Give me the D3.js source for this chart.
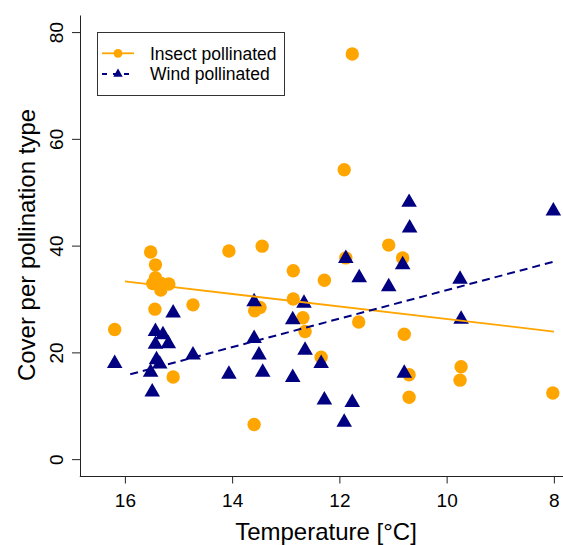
<!DOCTYPE html>
<html>
<head>
<meta charset="utf-8">
<script src="https://cdn.jsdelivr.net/npm/d3@7"></script>
<style>
  body { margin: 0; background: #fff; }
  svg { display: block; font-family: "Liberation Sans", Arial, sans-serif; }
</style>
</head>
<body>
<svg id="chart" width="563" height="545"></svg>
<script>
// insect pollinated points (temperature, cover)
var insectTemp = [16.19, 15.52, 15.43, 15.43, 15.48, 15.32, 15.18, 15.33, 15.44, 14.73, 15.10,
                  14.06, 13.44, 13.58, 13.48, 13.59, 12.86, 12.86, 12.68, 12.64, 12.28, 12.34,
                  11.91, 11.76, 11.88, 11.64, 11.08, 10.82, 10.79, 10.70, 10.70, 9.73, 9.75, 8.02];
var insectCover = [24.3, 38.8, 36.4, 34.0, 32.9, 32.9, 32.8, 31.7, 28.1, 28.9, 15.4,
                   39.0, 39.9, 27.8, 28.4, 6.5, 35.3, 30.0, 26.5, 23.9, 33.5, 19.1,
                   54.2, 75.9, 37.7, 25.7, 40.1, 37.7, 23.4, 15.8, 11.6, 17.3, 14.8, 12.4];

// wind pollinated points
var windTemp = [16.19, 15.52, 15.49, 15.43, 15.29, 15.43, 15.19, 15.41, 15.35, 15.10, 14.73,
                14.06, 13.59, 13.59, 13.50, 13.43, 12.87, 12.87, 12.66, 12.64, 12.34, 12.28,
                11.91, 11.88, 11.76, 11.63, 11.08, 10.82, 10.79, 10.70, 10.69, 9.75, 9.73, 8.01];
var windCover = [17.9, 16.3, 12.6, 23.9, 23.3, 21.5, 21.6, 18.6, 17.8, 27.4, 19.5,
                 15.9, 29.5, 22.6, 19.5, 16.3, 15.3, 26.1, 29.2, 20.4, 17.9, 11.1,
                 6.9, 37.6, 10.6, 34.0, 32.3, 36.4, 16.1, 48.1, 43.3, 33.7, 26.2, 46.5];

// fitted lines
var insectFitTemp = [16.0, 8.0];
var insectFitCover = [33.3, 23.9];
var windFitTemp = [15.9, 8.0];
var windFitCover = [15.9, 37.0];

var xTicks = [16, 14, 12, 10, 8];
var yTicks = [0, 20, 40, 60, 80];
var legendLabels = ["Insect pollinated", "Wind pollinated"];

var orange = "#FFA500", navy = "#000080";

var svg = d3.select("#chart");

var x = d3.scaleLinear().domain([16.85, 7.83]).range([79.3, 563]);
var y = d3.scaleLinear().domain([-3.1, 83.2]).range([475.7, 15]);

function zip(a, b) {
    return a.map(function (d, i) { return {t: d, c: b[i]}; });
}

// axes (L shaped box)
var xAxis = svg.append("g")
    .attr("transform", "translate(0,476)")
    .call(d3.axisBottom(x).tickValues(xTicks).tickSize(7.5).tickSizeOuter(0).tickFormat(d3.format("d")));
xAxis.select(".domain").attr("stroke", "#222");
xAxis.selectAll(".tick line").attr("stroke", "#222");
xAxis.selectAll(".tick text")
    .attr("y", 31).attr("dy", null)
    .attr("font-size", 19).attr("fill", "#000")
    .attr("font-family", "Liberation Sans, Arial, sans-serif");

var yAxis = svg.append("g")
    .attr("transform", "translate(80,0)")
    .call(d3.axisLeft(y).tickValues(yTicks).tickSize(8).tickSizeOuter(0));
yAxis.select(".domain").attr("stroke", "#222");
yAxis.selectAll(".tick line").attr("stroke", "#222");
yAxis.selectAll(".tick text")
    .attr("x", null).attr("dy", null)
    .attr("transform", "translate(-17,0) rotate(-90)")
    .attr("text-anchor", "middle")
    .attr("font-size", 19).attr("fill", "#000")
    .attr("font-family", "Liberation Sans, Arial, sans-serif");

// axis titles
svg.append("text")
    .attr("x", 326).attr("y", 540)
    .attr("text-anchor", "middle")
    .attr("font-size", 24)
    .text("Temperature [°C]");

svg.append("text")
    .attr("transform", "translate(35,245) rotate(-90)")
    .attr("text-anchor", "middle")
    .attr("font-size", 24)
    .text("Cover per pollination type");

// points
svg.append("g").selectAll("circle")
    .data(zip(insectTemp, insectCover))
    .enter().append("circle")
    .attr("cx", function (d) { return x(d.t); })
    .attr("cy", function (d) { return y(d.c); })
    .attr("r", 6.7)
    .attr("fill", orange);

var tri = d3.symbol().type(d3.symbolTriangle).size(105);
svg.append("g").selectAll("path")
    .data(zip(windTemp, windCover))
    .enter().append("path")
    .attr("d", tri)
    .attr("transform", function (d) { return "translate(" + x(d.t) + "," + y(d.c) + ")"; })
    .attr("fill", navy);

// regression lines
var line = d3.line()
    .x(function (d) { return x(d.t); })
    .y(function (d) { return y(d.c); });

svg.append("path")
    .datum(zip(insectFitTemp, insectFitCover))
    .attr("d", line)
    .attr("fill", "none")
    .attr("stroke", orange)
    .attr("stroke-width", 1.8);

svg.append("path")
    .datum(zip(windFitTemp, windFitCover))
    .attr("d", line)
    .attr("fill", "none")
    .attr("stroke", navy)
    .attr("stroke-width", 2)
    .attr("stroke-dasharray", "8,5");

// legend
var legend = svg.append("g");
legend.append("rect")
    .attr("x", 97.5).attr("y", 32.5)
    .attr("width", 187).attr("height", 63)
    .attr("fill", "#fff")
    .attr("stroke", "#333");

var rows = [53.3, 74];
legend.append("line")
    .attr("x1", 102).attr("x2", 134).attr("y1", rows[0]).attr("y2", rows[0])
    .attr("stroke", orange).attr("stroke-width", 1.8);
legend.append("circle")
    .attr("cx", 118).attr("cy", rows[0]).attr("r", 4.4).attr("fill", orange);

legend.append("line")
    .attr("x1", 102).attr("x2", 134).attr("y1", rows[1]).attr("y2", rows[1])
    .attr("stroke", navy).attr("stroke-width", 2)
    .attr("stroke-dasharray", "5,6");
legend.append("path")
    .attr("d", d3.symbol().type(d3.symbolTriangle).size(38))
    .attr("transform", "translate(118," + rows[1] + ")")
    .attr("fill", navy);

legend.selectAll("text.lab")
    .data(legendLabels)
    .enter().append("text")
    .attr("class", "lab")
    .attr("x", 150)
    .attr("y", function (d, i) { return rows[i] + 6.2; })
    .attr("font-size", 17.5)
    .text(function (d) { return d; });
</script>
</body>
</html>
